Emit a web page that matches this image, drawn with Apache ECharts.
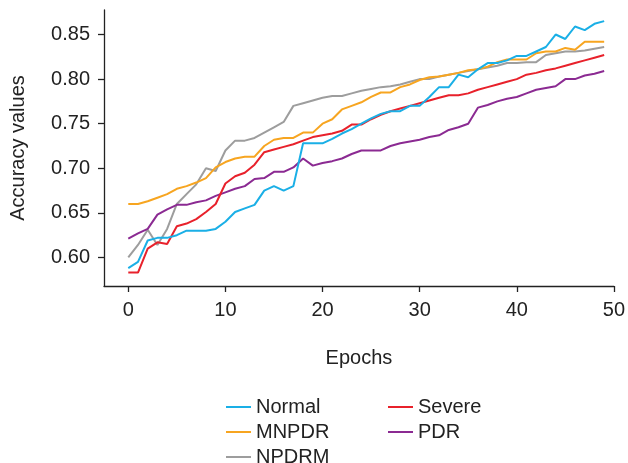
<!DOCTYPE html>
<html>
<head>
<meta charset="utf-8">
<script src="https://cdn.jsdelivr.net/npm/echarts@6/dist/echarts.min.js"></script>
<style>
  html, body { margin: 0; padding: 0; background: #fff; }
  #chart { width: 628px; height: 463px; }
</style>
</head>
<body>
<div id="chart"></div>
<script>
  var epochs = []
  for (var i = 0; i < 50; i++) epochs.push(i)

  var normal = [0.588, 0.595, 0.619, 0.622, 0.622, 0.625, 0.630, 0.630, 0.630, 0.632,
    0.640, 0.651, 0.655, 0.659, 0.675, 0.680, 0.675, 0.680, 0.728, 0.728,
    0.728, 0.733, 0.739, 0.744, 0.750, 0.756, 0.761, 0.764, 0.764, 0.770,
    0.770, 0.780, 0.791, 0.791, 0.805, 0.802, 0.811, 0.818, 0.818, 0.821,
    0.826, 0.826, 0.831, 0.836, 0.850, 0.845, 0.859, 0.855, 0.862, 0.865]
  var severe = [0.583, 0.583, 0.610, 0.617, 0.615, 0.635, 0.638, 0.643, 0.651, 0.660,
    0.683, 0.691, 0.695, 0.704, 0.718, 0.721, 0.724, 0.727, 0.731, 0.735,
    0.737, 0.739, 0.742, 0.749, 0.749, 0.755, 0.760, 0.764, 0.767, 0.770,
    0.773, 0.776, 0.779, 0.782, 0.782, 0.784, 0.788, 0.791, 0.794, 0.797,
    0.800, 0.805, 0.807, 0.810, 0.812, 0.815, 0.818, 0.821, 0.824, 0.827]
  var mnpdr = [0.660, 0.660, 0.663, 0.667, 0.671, 0.677, 0.680, 0.684, 0.689, 0.701,
    0.707, 0.711, 0.713, 0.713, 0.725, 0.732, 0.734, 0.734, 0.740, 0.740,
    0.750, 0.755, 0.766, 0.770, 0.774, 0.780, 0.785, 0.785, 0.791, 0.794,
    0.799, 0.802, 0.803, 0.805, 0.807, 0.810, 0.811, 0.814, 0.819, 0.822,
    0.822, 0.822, 0.829, 0.831, 0.831, 0.835, 0.833, 0.842, 0.842, 0.842]
  var pdr = [0.621, 0.627, 0.632, 0.648, 0.654, 0.659, 0.659, 0.662, 0.664, 0.669,
    0.673, 0.677, 0.680, 0.688, 0.689, 0.696, 0.696, 0.701, 0.711, 0.703,
    0.706, 0.708, 0.711, 0.716, 0.720, 0.720, 0.720, 0.725, 0.728, 0.730,
    0.732, 0.735, 0.737, 0.743, 0.746, 0.750, 0.768, 0.771, 0.775, 0.778,
    0.780, 0.784, 0.788, 0.790, 0.792, 0.800, 0.800, 0.804, 0.806, 0.809]
  var npdrm = [0.600, 0.614, 0.631, 0.614, 0.632, 0.660, 0.671, 0.682, 0.700, 0.697,
    0.720, 0.731, 0.731, 0.734, 0.740, 0.746, 0.752, 0.770, 0.773, 0.776,
    0.779, 0.781, 0.781, 0.784, 0.787, 0.789, 0.791, 0.792, 0.794, 0.797,
    0.800, 0.800, 0.803, 0.805, 0.807, 0.809, 0.811, 0.813, 0.815, 0.818,
    0.818, 0.819, 0.819, 0.827, 0.829, 0.831, 0.831, 0.832, 0.834, 0.836]

  var xTicks = [0, 10, 20, 30, 40, 50]
  var yTicks = [0.60, 0.65, 0.70, 0.75, 0.80, 0.85]

  var names = ['Normal', 'Severe', 'MNPDR', 'PDR', 'NPDRM']
  var colors = ['#1aafe6', '#e8212b', '#f7a520', '#8b2a92', '#9d9d9d']
  var values = [normal, severe, mnpdr, pdr, npdrm]

  var font = 'Liberation Sans, Arial, sans-serif'

  var series = names.map(function (n, k) {
    return {
      name: n,
      type: 'line',
      symbol: 'none',
      data: values[k].map(function (v, i) { return [epochs[i], v] }),
      lineStyle: { color: colors[k], width: 2 },
      itemStyle: { color: colors[k] },
      z: 10 - k
    }
  })

  var legendBase = {
    orient: 'vertical',
    icon: 'rect',
    itemWidth: 25,
    itemHeight: 2,
    itemGap: 5,
    height: 120,
    textStyle: { fontFamily: font, fontSize: 20, color: '#222', lineHeight: 20 }
  }

  var myChart = echarts.init(document.getElementById('chart'), null, { renderer: 'canvas' })
  var option = {
    animation: false,
    backgroundColor: '#fff',
    grid: { left: 100, right: 14, top: 10, bottom: 177, containLabel: false },
    legend: [
      Object.assign({}, legendBase, { left: 221, top: 392, data: ['Normal', 'MNPDR', 'NPDRM'] }),
      Object.assign({}, legendBase, { left: 383, top: 392, data: ['Severe', 'PDR'] })
    ],
    xAxis: {
      type: 'value',
      min: -2.5,
      max: 50,
      name: 'Epochs',
      nameLocation: 'middle',
      nameGap: 62,
      nameTextStyle: { fontFamily: font, fontSize: 20, color: '#222' },
      axisLine: { onZero: false, lineStyle: { color: '#222', width: 1.3 } },
      axisTick: { show: true, length: 6, customValues: xTicks, lineStyle: { color: '#222', width: 1.3 } },
      axisLabel: { customValues: xTicks, margin: 14, fontFamily: font, fontSize: 20, color: '#222' },
      splitLine: { show: false }
    },
    yAxis: {
      type: 'value',
      min: 0.568,
      max: 0.8775,
      name: 'Accuracy values',
      nameLocation: 'middle',
      nameGap: 76,
      nameTextStyle: { fontFamily: font, fontSize: 20, color: '#222' },
      axisLine: { show: true, onZero: false, lineStyle: { color: '#222', width: 1.3 } },
      axisTick: { show: true, length: 6, customValues: yTicks, lineStyle: { color: '#222', width: 1.3 } },
      axisLabel: {
        customValues: yTicks, margin: 14, fontFamily: font, fontSize: 20, color: '#222',
        formatter: function (v) { return v.toFixed(2) }
      },
      splitLine: { show: false }
    },
    series: series
  }
  myChart.setOption(option)
</script>
</body>
</html>
